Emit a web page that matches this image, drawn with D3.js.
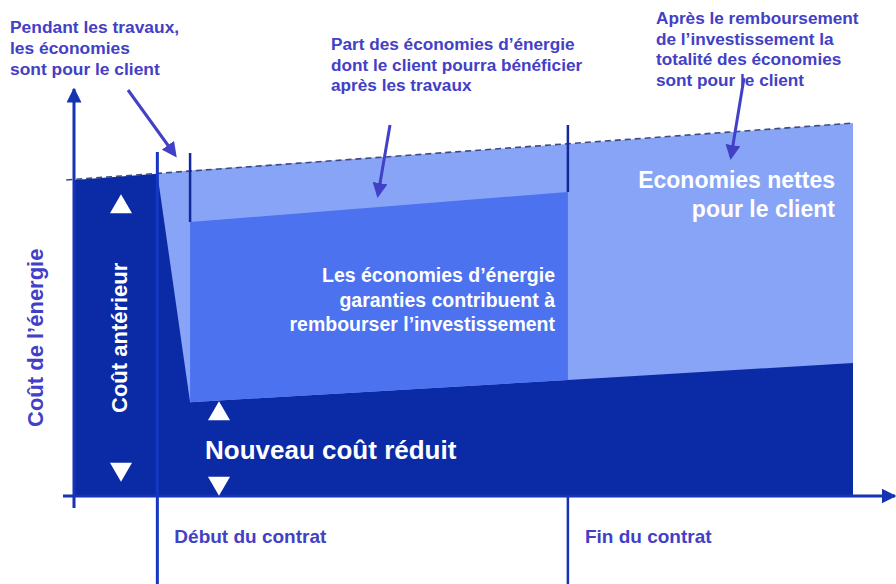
<!DOCTYPE html>
<html>
<head>
<meta charset="utf-8">
<script src="https://cdn.jsdelivr.net/npm/d3@7"></script>
<style>
  body { margin: 0; background: #fff; }
  text { font-family: "Liberation Sans", Arial, sans-serif; font-weight: bold; }
</style>
</head>
<body>
<div id="chart"></div>
<script>
// timeline (arbitrary units)
var contratT = [10.7, 63.4];          // début / fin du contrat
var travauxFinT = 14.9;               // end of works
var phaseLabels = ["Début du contrat", "Fin du contrat"];

// old cost (dashed line)
var ancienT = [-1, 100];
var ancienV = [100, 118];

// new cost actually paid (dark area)
var reduitT = [0, 10.7, 14.9, 63.4, 100];
var reduitV = [100, 102, 29.7, 36.7, 42.1];

// total savings area (light), under the dashed line
var economiesT = [10.7, 14.9, 63.4, 100];
var economiesV = [102, 103, 111.4, 118];

// guaranteed savings paying back the investment (medium)
var garantiesT = [14.9, 63.4];
var garantiesHaut = [86.7, 96.2];
var garantiesBas = [29.7, 36.7];

var W = 896, H = 584;
var colDark = "#0b2ba6", colMid = "#4c72f0", colLight = "#88a4f6",
    colText = "#4240c6", colLine = "#1633b4";

var svg = d3.select("#chart")
  .append("svg")
    .attr("width", W)
    .attr("height", H);

var defs = svg.append("defs");
defs.append("marker")
    .attr("id", "head")
    .attr("viewBox", "0 0 10 10")
    .attr("refX", 8).attr("refY", 5)
    .attr("markerWidth", 5).attr("markerHeight", 5)
    .attr("markerUnits", "strokeWidth")
    .attr("orient", "auto")
  .append("path")
    .attr("d", "M0,0 L10,5 L0,10 z")
    .attr("fill", colText);
defs.append("marker")
    .attr("id", "axhead")
    .attr("viewBox", "0 0 10 10")
    .attr("refX", 9).attr("refY", 5)
    .attr("markerWidth", 5).attr("markerHeight", 5)
    .attr("markerUnits", "strokeWidth")
    .attr("orient", "auto")
  .append("path")
    .attr("d", "M0,0 L10,5 L0,10 z")
    .attr("fill", colLine);

// scales
var x = d3.scaleLinear().domain([0, 100]).range([74, 853]);
var y = d3.scaleLinear().domain([0, 100]).range([496, 180]);

var pts = function(ts, vs) { return ts.map(function(t, i) { return [t, vs[i]]; }); };

// light area: all the savings
var areaBase = d3.area()
    .x(function(d) { return x(d[0]); })
    .y0(y(0))
    .y1(function(d) { return y(d[1]); });

svg.append("path")
    .datum(pts(economiesT, economiesV))
    .attr("d", areaBase)
    .attr("fill", colLight);

// dark area: cost paid
svg.append("path")
    .datum(pts(reduitT, reduitV))
    .attr("d", areaBase)
    .attr("fill", colDark);

// medium area: guaranteed savings
var garanties = garantiesT.map(function(t, i) { return {t: t, lo: garantiesBas[i], hi: garantiesHaut[i]}; });
svg.append("path")
    .datum(garanties)
    .attr("d", d3.area()
      .x(function(d) { return x(d.t); })
      .y0(function(d) { return y(d.lo); })
      .y1(function(d) { return y(d.hi); }))
    .attr("fill", colMid);

// dashed line: former cost
svg.append("path")
    .datum(pts(ancienT, ancienV))
    .attr("d", d3.line().x(function(d) { return x(d[0]); }).y(function(d) { return y(d[1]); }))
    .attr("fill", "none")
    .attr("stroke", "#3c4a86")
    .attr("stroke-width", 1.6)
    .attr("stroke-dasharray", "6,4");

// axes
svg.append("line")
    .attr("x1", x(0)).attr("x2", x(0))
    .attr("y1", y(0) + 12).attr("y2", 89)
    .attr("stroke", colLine).attr("stroke-width", 3)
    .attr("marker-end", "url(#axhead)");
svg.append("line")
    .attr("x1", x(0) - 11).attr("x2", W - 1)
    .attr("y1", y(0)).attr("y2", y(0))
    .attr("stroke", colLine).attr("stroke-width", 3)
    .attr("marker-end", "url(#axhead)");

// vertical markers
svg.append("line")
    .attr("x1", x(contratT[0])).attr("x2", x(contratT[0]))
    .attr("y1", 152).attr("y2", H)
    .attr("stroke", "#1437c4").attr("stroke-width", 3);
svg.append("line")
    .attr("x1", x(travauxFinT)).attr("x2", x(travauxFinT))
    .attr("y1", 153).attr("y2", y(garantiesHaut[0]))
    .attr("stroke", "#14289a").attr("stroke-width", 2.5);
svg.append("line")
    .attr("x1", x(contratT[1])).attr("x2", x(contratT[1]))
    .attr("y1", 125).attr("y2", y(garantiesHaut[1]))
    .attr("stroke", "#14289a").attr("stroke-width", 2.5);
svg.append("line")
    .attr("x1", x(contratT[1])).attr("x2", x(contratT[1]))
    .attr("y1", y(0)).attr("y2", H)
    .attr("stroke", colLine).attr("stroke-width", 2.5);

// white triangles
var tri = d3.symbol().type(d3.symbolTriangle).size(210);
[[121, 207, 0], [121, 469, 180], [219, 414, 0], [219, 483, 180]].forEach(function(p) {
  svg.append("path")
      .attr("d", tri)
      .attr("transform", "translate(" + p[0] + "," + p[1] + ") rotate(" + p[2] + ")")
      .attr("fill", "#fff");
});

// text blocks
function block(lines, px, py, lh, size, color, anchor) {
  var t = svg.append("text")
      .attr("x", px).attr("y", py)
      .attr("font-size", size)
      .attr("fill", color)
      .attr("text-anchor", anchor || "start");
  lines.forEach(function(l, i) {
    t.append("tspan").attr("x", px).attr("y", py + i * lh).text(l);
  });
}

block(["Pendant les travaux,", "les économies", "sont pour le client"], 10, 33, 21, 17.4, colText);
block(["Part des économies d’énergie", "dont le client pourra bénéficier", "après les travaux"], 331, 50, 20.5, 17.2, colText);
block(["Après le remboursement", "de l’investissement la", "totalité des économies", "sont pour le client"], 656, 24, 20.7, 17.2, colText);

block(["Les économies d’énergie", "garanties contribuent à", "rembourser l’investissement"], 555, 282, 24.5, 19.5, "#fff", "end");
block(["Economies nettes", "pour le client"], 835, 188, 29, 23, "#fff", "end");
block(["Nouveau coût réduit"], 205, 459, 0, 26, "#fff");

svg.append("text")
    .attr("transform", "translate(43,427) rotate(-90)")
    .attr("font-size", 22).attr("fill", colText)
    .text("Coût de l’énergie");
svg.append("text")
    .attr("transform", "translate(127,413) rotate(-90)")
    .attr("font-size", 22).attr("fill", "#fff")
    .text("Coût antérieur");

// phase labels under the axis
svg.selectAll(".phase")
  .data(phaseLabels)
  .enter()
  .append("text")
    .attr("class", "phase")
    .attr("x", function(d, i) { return x(contratT[i]) + 17; })
    .attr("y", 543)
    .attr("font-size", 19)
    .attr("fill", colText)
    .text(function(d) { return d; });

// annotation arrows
[[128, 90, 175, 155], [390, 125, 378, 195], [744, 78, 731, 157]].forEach(function(a) {
  svg.append("line")
      .attr("x1", a[0]).attr("y1", a[1])
      .attr("x2", a[2]).attr("y2", a[3])
      .attr("stroke", colText).attr("stroke-width", 3)
      .attr("marker-end", "url(#head)");
});
</script>
</body>
</html>
